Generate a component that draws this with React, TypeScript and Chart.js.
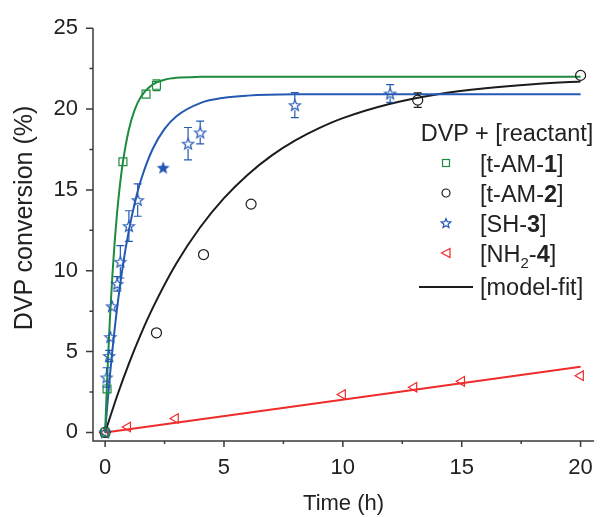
import React, { useEffect, useRef } from 'react';
import { Chart, registerables } from 'chart.js';

Chart.register(...registerables);

// ---------- data ----------
const xTicks = [0, 5, 10, 15, 20];
const yTicks = [0, 5, 10, 15, 20, 25];
const xMinorTicks = [2.5, 7.5, 12.5, 17.5];
const yMinorTicks = [2.5, 7.5, 12.5, 17.5, 22.5];

const greenT = [0, 0.08, 0.75, 1.72, 2.16];
const greenY = [0, 2.69, 16.74, 20.92, 21.47];
const greenErr = [0, 0.15, 0.15, 0.2, 0.33];

const blackT = [0, 2.16, 4.14, 6.14, 13.15, 20.0];
const blackY = [0, 6.16, 11.0, 14.12, 20.55, 22.08];
const blackErr = [0, 0.1, 0.12, 0.15, 0.45, 0.2];

const blueT = [0, 0.06, 0.17, 0.22, 0.29, 0.51, 0.64, 1.0, 1.37, 2.44, 3.49, 4.0, 7.98, 11.99];
const blueY = [0, 3.4, 4.73, 5.9, 7.8, 9.19, 10.55, 12.76, 14.37, 16.37, 17.86, 18.55, 20.24, 20.96];
const blueErr = [0, 0.6, 0.35, 0.2, 0.25, 0.45, 1.0, 0.95, 1.0, 0, 1.0, 0.7, 0.77, 0.55];

const redT = [0, 0.95, 2.96, 9.99, 12.99, 15.0, 20.0];
const redY = [0, 0.34, 0.86, 2.35, 2.79, 3.16, 3.51];
const redErr = [0, 0.1, 0.15, 0.15, 0.25, 0.2, 0.25];

const greenFitT = [0, 0.1, 0.2, 0.3, 0.4, 0.5, 0.6, 0.75, 1, 1.25, 1.5, 2, 2.5, 3, 4, 5, 20];
const greenFitY = [0, 3.83, 6.99, 9.6, 11.75, 13.53, 15.0, 16.74, 18.74, 19.98, 20.75, 21.52, 21.81, 21.93, 21.99, 22.0, 22.0];

const blueFitT = [0, 0.1, 0.2, 0.3, 0.4, 0.5, 0.75, 1, 1.25, 1.5, 2, 2.5, 3, 4, 5, 6, 8, 10, 20];
const blueFitY = [0, 1.82, 3.48, 5.0, 6.38, 7.65, 10.35, 12.5, 14.21, 15.58, 17.53, 18.77, 19.56, 20.37, 20.7, 20.83, 20.91, 20.92, 20.92];

const blackFitT = [0, 0.5, 1, 1.5, 2, 3, 4, 5, 6, 7, 8, 9, 10, 12, 14, 16, 18, 20];
const blackFitY = [0, 2.24, 4.26, 6.07, 7.69, 10.46, 12.69, 14.49, 15.94, 17.12, 18.06, 18.82, 19.44, 20.33, 20.92, 21.29, 21.54, 21.7];

const redFitT = [0, 20];
const redFitY = [0, 4.06];

// ---------- styles ----------
const FONT = '"Liberation Sans", Arial, Helvetica, sans-serif';
const GREEN = '#1e8c3e';
const BLUE = '#2459b3';
const BLACK = '#1c1c1c';
const RED = '#ef2b2b';
const AXIS = '#3a3a3a';
const TEXT = '#222222';
const FILLED_STAR_INDEX = 9;

const pts = (t: number[], y: number[]) => t.map((v, i) => ({ x: v, y: y[i] }));

function makeStar(color: string, filled: boolean, ro = 5.8, ri = 2.5): HTMLCanvasElement {
  const s = 16;
  const c = document.createElement('canvas');
  c.width = s;
  c.height = s;
  const ctx = c.getContext('2d')!;
  const cx = s / 2;
  const cy = s / 2 + 0.5;
  ctx.beginPath();
  for (let i = 0; i < 10; i++) {
    const r = i % 2 === 0 ? ro : ri;
    const a = -Math.PI / 2 + (i * Math.PI) / 5;
    const px = cx + r * Math.cos(a);
    const py = cy + r * Math.sin(a);
    if (i === 0) ctx.moveTo(px, py);
    else ctx.lineTo(px, py);
  }
  ctx.closePath();
  if (filled) {
    ctx.fillStyle = color;
    ctx.fill();
  }
  ctx.strokeStyle = color;
  ctx.lineWidth = 1.2;
  ctx.stroke();
  return c;
}

const errorBarPlugin = {
  id: 'errorBars',
  afterDatasetsDraw(chart: any) {
    const { ctx } = chart;
    const xs = chart.scales.x;
    const ys = chart.scales.y;
    chart.data.datasets.forEach((ds: any) => {
      if (!ds.errors) return;
      ctx.save();
      ctx.strokeStyle = ds.borderColor;
      ctx.lineWidth = 1.2;
      ds.data.forEach((p: any, i: number) => {
        const e = ds.errors[i];
        if (!e) return;
        const px = xs.getPixelForValue(p.x);
        const py = ys.getPixelForValue(p.y);
        const yTop = ys.getPixelForValue(p.y + e);
        const yBot = ys.getPixelForValue(p.y - e);
        const r = 5;
        if (py - yTop <= r) return;
        ctx.beginPath();
        ctx.moveTo(px, yTop);
        ctx.lineTo(px, py - r);
        ctx.moveTo(px, py + r);
        ctx.lineTo(px, yBot);
        ctx.moveTo(px - 4, yTop);
        ctx.lineTo(px + 4, yTop);
        ctx.moveTo(px - 4, yBot);
        ctx.lineTo(px + 4, yBot);
        ctx.stroke();
      });
      ctx.restore();
    });
  },
};

const axesPlugin = {
  id: 'axesLines',
  afterDraw(chart: any) {
    const { ctx, chartArea: a } = chart;
    const xs = chart.scales.x;
    const ys = chart.scales.y;
    ctx.save();
    ctx.strokeStyle = AXIS;
    ctx.lineWidth = 1.5;
    ctx.beginPath();
    ctx.moveTo(a.left, a.top);
    ctx.lineTo(a.left, a.bottom);
    ctx.lineTo(a.right, a.bottom);
    xTicks.forEach((v) => {
      const p = xs.getPixelForValue(v);
      ctx.moveTo(p, a.bottom);
      ctx.lineTo(p, a.bottom + 6);
    });
    xMinorTicks.forEach((v) => {
      const p = xs.getPixelForValue(v);
      ctx.moveTo(p, a.bottom);
      ctx.lineTo(p, a.bottom + 3);
    });
    yTicks.forEach((v) => {
      const p = ys.getPixelForValue(v);
      ctx.moveTo(a.left, p);
      ctx.lineTo(a.left - 7, p);
    });
    yMinorTicks.forEach((v) => {
      const p = ys.getPixelForValue(v);
      ctx.moveTo(a.left, p);
      ctx.lineTo(a.left - 3.5, p);
    });
    ctx.stroke();
    ctx.restore();
  },
};

function ChartCanvas() {
  const ref = useRef<HTMLCanvasElement | null>(null);
  useEffect(() => {
    if (!ref.current) return;
    const openStar = makeStar(BLUE, false);
    const solidStar = makeStar(BLUE, true, 5.2, 2.3);
    const fitLine = (t: number[], y: number[], color: string, order: number) => ({
      data: pts(t, y),
      showLine: true,
      borderColor: color,
      borderWidth: 2,
      pointRadius: 0,
      fill: false,
      cubicInterpolationMode: 'monotone',
      order,
    });
    const marker = (t: number[], y: number[], err: number[], color: string, style: any, order: number, extra: any = {}) => ({
      data: pts(t, y),
      showLine: false,
      borderColor: color,
      backgroundColor: 'rgba(0,0,0,0)',
      borderWidth: 1.2,
      pointStyle: style,
      pointRadius: 5,
      errors: err,
      order,
      ...extra,
    });
    const chart = new Chart(ref.current, {
      type: 'scatter',
      data: {
        datasets: [
          marker(greenT, greenY, greenErr, GREEN, 'rect', 1, { pointRadius: 5.6 }),
          marker(blueT, blueY, blueErr, BLUE, (c: any) => (c.dataIndex === FILLED_STAR_INDEX ? solidStar : openStar), 2),
          marker(blackT, blackY, blackErr, BLACK, 'circle', 3, { pointRadius: 5 }),
          marker(redT, redY, redErr, RED, 'triangle', 4, { pointRotation: -90, pointRadius: 5.5 }),
          fitLine(greenFitT, greenFitY, GREEN, 5),
          fitLine(blueFitT, blueFitY, BLUE, 6),
          fitLine(blackFitT, blackFitY, BLACK, 7),
          fitLine(redFitT, redFitY, RED, 8),
        ] as any,
      },
      options: {
        animation: false,
        responsive: false,
        devicePixelRatio: 1,
        events: [],
        layout: { padding: { left: 0, top: 24, right: 6, bottom: 0 } },
        plugins: { legend: { display: false }, tooltip: { enabled: false } },
        scales: {
          x: {
            type: 'linear',
            min: -0.51,
            max: 20.57,
            grid: { display: false, drawTicks: false },
            border: { display: false },
            afterBuildTicks: (s: any) => {
              s.ticks = xTicks.map((v) => ({ value: v }));
            },
            afterFit: (s: any) => {
              s.height = 76;
            },
            ticks: {
              padding: 14,
              color: TEXT,
              font: { family: FONT, size: 22 },
              maxRotation: 0,
              callback: (v: any) => String(v),
            },
            title: {
              display: true,
              text: 'Time (h)',
              color: TEXT,
              font: { family: FONT, size: 22 },
              padding: { top: 0, bottom: 0 },
            },
          },
          y: {
            type: 'linear',
            min: -0.53,
            max: 25,
            grid: { display: false, drawTicks: false },
            border: { display: false },
            afterBuildTicks: (s: any) => {
              s.ticks = yTicks.map((v) => ({ value: v }));
            },
            afterFit: (s: any) => {
              s.width = 93;
            },
            ticks: {
              padding: 15,
              color: TEXT,
              font: { family: FONT, size: 22 },
              callback: (v: any) => String(v),
            },
          },
        },
      } as any,
      plugins: [axesPlugin, errorBarPlugin],
    });
    return () => chart.destroy();
  }, []);
  return <canvas ref={ref} width={607} height={517} style={{ display: 'block', width: 607, height: 517 }} />;
}

const Sym = ({ kind, cx, cy }: { kind: string; cx: number; cy: number }) => {
  const common = { position: 'absolute' as const, left: cx - 8, top: cy - 8 };
  let shape: any = null;
  if (kind === 'square') shape = <rect x={4.5} y={4.5} width={7} height={7} fill="none" stroke={GREEN} strokeWidth={1.2} />;
  if (kind === 'circle') shape = <circle cx={8} cy={8} r={4} fill="none" stroke={BLACK} strokeWidth={1.2} />;
  if (kind === 'star') {
    const p: string[] = [];
    for (let i = 0; i < 10; i++) {
      const r = i % 2 === 0 ? 5 : 2.2;
      const a = -Math.PI / 2 + (i * Math.PI) / 5;
      p.push(`${(8 + r * Math.cos(a)).toFixed(2)},${(8.5 + r * Math.sin(a)).toFixed(2)}`);
    }
    shape = <polygon points={p.join(' ')} fill="none" stroke={BLUE} strokeWidth={1.2} />;
  }
  if (kind === 'tri') shape = <polygon points="3.5,8 12,3.5 12,12.5" fill="none" stroke={RED} strokeWidth={1.2} />;
  return (
    <svg width={16} height={16} style={common}>
      {shape}
    </svg>
  );
};

export default function App() {
  const rowStyle = (left: number, cy: number): React.CSSProperties => ({
    position: 'absolute',
    left,
    top: cy - 14,
    height: 28,
    lineHeight: '28px',
    fontFamily: FONT,
    fontSize: 23.5,
    color: TEXT,
    whiteSpace: 'nowrap',
  });
  return (
    <div style={{ position: 'absolute', left: 0, top: 0, width: 607, height: 517, background: '#fff' }}>
      <ChartCanvas />
      <div
        style={{
          position: 'absolute',
          left: 23 - 140,
          top: 218 - 15,
          width: 280,
          height: 30,
          lineHeight: '30px',
          textAlign: 'center',
          fontFamily: FONT,
          fontSize: 25,
          color: TEXT,
          transform: 'rotate(-90deg)',
          whiteSpace: 'nowrap',
        }}
      >
        DVP conversion (%)
      </div>
      <div style={rowStyle(420.7, 132.5)}>DVP + [reactant]</div>
      <Sym kind="square" cx={446} cy={162.7} />
      <div style={rowStyle(480, 163.5)}>
        [t-AM-<b>1</b>]
      </div>
      <Sym kind="circle" cx={446} cy={192.7} />
      <div style={rowStyle(480, 193.5)}>
        [t-AM-<b>2</b>]
      </div>
      <Sym kind="star" cx={446} cy={223.3} />
      <div style={rowStyle(480, 224)}>
        [SH-<b>3</b>]
      </div>
      <Sym kind="tri" cx={446} cy={253.3} />
      <div style={rowStyle(480, 254)}>
        [NH<span style={{ fontSize: 15, position: 'relative', top: 6 }}>2</span>-<b>4</b>]
      </div>
      <div style={{ position: 'absolute', left: 419, top: 285.7, width: 54, height: 0, borderTop: `2px solid ${BLACK}` }} />
      <div style={rowStyle(480, 287)}>[model-fit]</div>
    </div>
  );
}
